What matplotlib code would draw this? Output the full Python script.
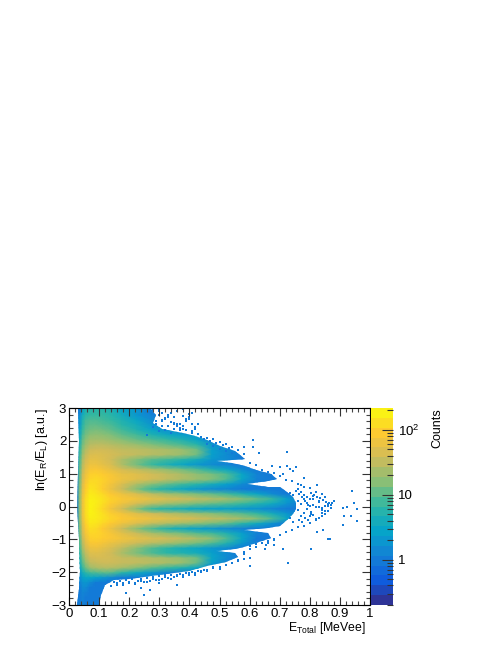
import numpy as np
import matplotlib as mpl
import matplotlib.pyplot as plt
from matplotlib.colors import LinearSegmentedColormap, ListedColormap, LogNorm
from matplotlib.patches import Polygon

mpl.use("Agg")
plt.rcParams["font.family"] = "Liberation Sans"
plt.rcParams["axes.linewidth"] = 0.8
plt.rcParams["mathtext.fontset"] = "custom"
plt.rcParams["mathtext.rm"] = "Liberation Sans"
plt.rcParams["mathtext.default"] = "regular"

# nodes of the coarse read-off grid
energy_nodes = [0.025, 0.035, 0.045, 0.055, 0.07, 0.09, 0.1125, 0.1375, 0.175, 0.225, 0.275,
                0.325, 0.375, 0.425, 0.475, 0.525, 0.575, 0.625, 0.675, 0.725, 0.775, 0.825, 0.875]
ratio_nodes = [3.0] + [round(2.925 - 0.15 * i, 3) for i in range(40)] + [-3.0]

# counts per bin, top row is ln(ER/EL) = 3
counts_rows = [
    [0, 1, 3, 5, 6, 6, 6, 5, 3, 2, 1],
    [0, 1, 3, 5, 6, 6, 6, 5, 3, 2, 1],
    [0, 1.5, 4, 6, 7, 7, 7, 6, 4, 2, 1.2],
    [0, 2, 5, 8, 9, 9, 8, 7, 5, 3, 1.5, 1],
    [0, 2, 6, 9, 11, 11, 10, 9, 6, 4, 2, 1.2],
    [0, 3, 7, 11, 13, 14, 13, 11, 8, 5, 3, 1.8, 1.3, 1],
    [0, 3, 9, 13, 17, 18, 17, 15, 11, 8, 5, 3.5, 2.5, 2],
    [0, 4, 11, 16, 22, 22, 22, 20, 16, 12, 9, 7, 5, 3, 1.2],
    [0, 5, 13, 20, 28, 30, 30, 28, 24, 20, 15, 12, 9, 6, 2, 1.2],
    [0, 6, 16, 26, 36, 38, 38, 36, 32, 30, 27, 24, 20, 13, 2.5, 1.5],
    [0, 7, 20, 32, 45, 48, 45, 42, 35, 32, 28, 24, 20, 13, 2.5, 1.5, 1],
    [0, 8, 24, 38, 55, 55, 48, 40, 25, 15, 10, 8, 6, 4, 2, 1.5, 1],
    [0, 9, 28, 45, 65, 65, 55, 45, 25, 13, 7, 4.5, 3, 2, 1.5, 1.2, 1],
    [0, 10, 32, 55, 80, 85, 75, 60, 42, 32, 24, 18, 13, 9, 5, 3, 1.5],
    [0, 11, 38, 65, 100, 105, 95, 80, 60, 50, 40, 32, 25, 18, 14, 9, 3, 1.2],
    [0, 12, 42, 75, 115, 120, 105, 85, 65, 50, 40, 32, 25, 20, 15, 9, 3, 1.2],
    [0, 13, 48, 85, 130, 125, 100, 75, 45, 25, 16, 11, 8, 6, 4, 2.5, 1.5, 1],
    [0, 14, 52, 95, 145, 130, 95, 65, 35, 15, 7, 4.5, 3, 2, 1.5, 1.3, 1, 1],
    [0, 15, 58, 105, 165, 150, 120, 90, 65, 45, 30, 22, 18, 14, 11, 8, 5, 3, 1.5],
    [0, 16, 65, 120, 185, 170, 140, 110, 85, 70, 55, 45, 38, 32, 27, 22, 16, 11, 7, 2.5],
    [0, 16, 65, 125, 190, 170, 130, 95, 65, 40, 28, 20, 16, 13, 11, 9, 7, 5, 3.5, 1.8],
    [0, 16, 65, 125, 190, 160, 115, 75, 40, 16, 7, 5, 4, 3, 2.5, 2.5, 2, 1.8, 1.3, 1],
    [0, 16, 65, 125, 190, 170, 135, 100, 75, 50, 38, 30, 24, 20, 16, 13, 10, 7, 4, 2, 1],
    [0, 16, 60, 115, 175, 165, 140, 115, 90, 75, 62, 52, 45, 38, 32, 28, 22, 16, 9, 3, 1],
    [0, 14, 52, 100, 155, 145, 115, 90, 65, 45, 32, 25, 20, 16, 13, 10, 6, 3.5, 1.8],
    [0, 13, 45, 85, 130, 120, 90, 65, 35, 16, 9, 5, 3.5, 2.5, 2, 1.5, 1.2, 1],
    [0, 12, 40, 75, 115, 115, 100, 80, 55, 35, 24, 18, 14, 10, 8, 5, 2.5, 1.2],
    [0, 10, 34, 62, 100, 105, 95, 85, 70, 55, 45, 38, 32, 25, 18, 9, 3, 1],
    [0, 9, 28, 50, 80, 85, 75, 62, 48, 35, 28, 22, 17, 13, 9, 5, 2],
    [0, 8, 22, 40, 62, 65, 55, 45, 30, 16, 9, 6, 4, 3, 2, 1.5, 1],
    [0, 6, 17, 30, 48, 50, 45, 38, 24, 14, 9, 6, 5, 4, 2.5, 1.5],
    [0, 5, 13, 24, 38, 42, 42, 40, 34, 30, 26, 22, 18, 13, 3, 1.5],
    [0, 4, 10, 18, 30, 34, 36, 36, 34, 32, 28, 24, 20, 12, 2.5, 1.2],
    [0, 3, 7, 12, 20, 24, 26, 26, 22, 15, 10, 7, 5, 3, 1.2],
    [0, 2, 4, 6, 8, 9, 10, 10, 6, 3.5, 2, 1.3, 1],
    [0, 1.5, 2.5, 3, 3, 2.5, 2, 1.5, 1],
    [0, 1.2, 1.8, 2, 1.5, 1],
    [0, 1, 1.5, 1.5, 1],
    [0, 1, 1.3, 1.2],
    [0, 1, 1.2, 1],
    [0, 1, 1.2, 1],
    [0, 1, 1.2, 1],
]

# outline of the filled region, read clockwise from the top left
outline_energy = [0.03, 0.27, 0.29, 0.28, 0.31, 0.38, 0.42, 0.46, 0.5, 0.55, 0.585, 0.54, 0.49, 0.54, 0.585,
                  0.62, 0.67, 0.69, 0.66, 0.59, 0.66, 0.70, 0.725, 0.745, 0.755, 0.755, 0.745, 0.725, 0.70, 0.66,
                  0.58, 0.66, 0.67, 0.62, 0.58, 0.55, 0.49, 0.55, 0.56, 0.52, 0.46, 0.4, 0.3, 0.2, 0.15,
                  0.12, 0.105, 0.1, 0.025, 0.033, 0.037, 0.033, 0.028, 0.03, 0.032]
outline_ratio = [3, 3, 2.8, 2.55, 2.35, 2.25, 2.15, 2.02, 1.85, 1.68, 1.45, 1.42, 1.39, 1.33, 1.22,
                 1.12, 1.0, 0.85, 0.78, 0.68, 0.6, 0.58, 0.45, 0.3, 0.12, -0.08, -0.24, -0.42, -0.58, -0.66,
                 -0.73, -0.8, -0.95, -1.1, -1.22, -1.28, -1.35, -1.42, -1.55, -1.68, -1.82, -1.95, -2.08, -2.2, -2.25,
                 -2.4, -2.7, -3, -3, -2.5, -2, -1, 0, 1, 2]

# isolated single-count bins outside the dense region
stray_energy = [
    0.612, 0.581, 0.612, 0.632, 0.725, 0.673, 0.700, 0.725, 0.754, 0.735, 0.745, 0.712, 0.781, 0.823, 0.770,
    0.939, 0.947, 0.911, 0.925, 0.958, 0.937, 0.912, 0.958, 0.910, 0.843, 0.823, 0.862, 0.866, 0.803, 0.729,
    0.710, 0.600, 0.580, 0.600, 0.650, 0.680, 0.655,
    0.805, 0.815, 0.825, 0.835, 0.845, 0.855, 0.865, 0.81, 0.82, 0.83, 0.84, 0.85, 0.86, 0.875, 0.80, 0.81, 0.82, 0.83, 0.84, 0.85,
    0.29, 0.31, 0.33, 0.35, 0.37, 0.39, 0.41, 0.30, 0.32, 0.34, 0.36, 0.38, 0.40, 0.42, 0.31, 0.33, 0.35, 0.37, 0.39, 0.41,
    0.16, 0.18, 0.20, 0.22, 0.24, 0.26, 0.28, 0.30, 0.32, 0.34, 0.36, 0.38, 0.40, 0.42, 0.44, 0.46, 0.48, 0.50, 0.52, 0.54,
    0.46, 0.48, 0.50, 0.52, 0.54, 0.56, 0.58, 0.60, 0.62, 0.64, 0.66, 0.68, 0.70, 0.72, 0.74, 0.76, 0.78, 0.80, 0.82, 0.84,
    0.56, 0.58, 0.60, 0.62, 0.64, 0.66, 0.68, 0.70, 0.72, 0.74, 0.76, 0.78, 0.80, 0.82, 0.58, 0.60, 0.62, 0.64, 0.66, 0.68,
    0.26, 0.28, 0.30, 0.32, 0.34, 0.36, 0.38, 0.40, 0.42, 0.27, 0.29, 0.31, 0.33, 0.35, 0.37, 0.39, 0.41,
    0.28, 0.30, 0.32, 0.34, 0.36, 0.38, 0.40, 0.43, 0.30, 0.33, 0.36, 0.39, 0.42, 0.31, 0.35, 0.38, 0.41,
    0.45, 0.47, 0.49, 0.51, 0.53, 0.46, 0.48, 0.50, 0.52, 0.54, 0.44, 0.43,
    0.12, 0.13, 0.14, 0.15, 0.16, 0.17, 0.18, 0.19, 0.20, 0.21, 0.22, 0.23, 0.24, 0.25, 0.26, 0.27, 0.28,
    0.29, 0.30, 0.31, 0.32, 0.33, 0.34, 0.35, 0.36, 0.37, 0.38, 0.39, 0.40, 0.41, 0.42, 0.43, 0.44, 0.45,
    0.46, 0.48, 0.50, 0.52, 0.54, 0.56, 0.58, 0.30, 0.27, 0.24, 0.36, 0.19, 0.25,
    0.85, 0.83, 0.86, 0.82, 0.87, 0.84, 0.81, 0.88, 0.85, 0.83, 0.86, 0.82, 0.84, 0.81, 0.87,
    0.76, 0.77, 0.78, 0.79, 0.80, 0.76, 0.77, 0.78, 0.79, 0.80, 0.76, 0.77, 0.78, 0.79, 0.80,
    0.765, 0.775, 0.785, 0.795, 0.805, 0.765, 0.775, 0.785, 0.795, 0.805, 0.735, 0.745, 0.755, 0.735, 0.745,
]
stray_ratio = [
    2.03, 1.82, 1.80, 1.62, 1.67, 1.24, 1.21, 1.24, 1.21, 1.15, 1.08, 1.00, 0.87, 0.65, 0.67,
    0.47, 0.12, -0.04, -0.01, -0.08, -0.28, -0.28, -0.45, -0.55, -0.72, -0.77, -0.99, -0.99, -1.28, -1.73,
    -1.30, -1.81, -1.60, -1.58, -1.30, -1.17, -1.17,
    0.40, 0.34, 0.30, 0.26, 0.20, 0.14, 0.10, 0.05, 0.00, 0.14, -0.05, 0.02, 0.08, 0.12, -0.30, -0.25, -0.38, -0.02, -0.20, -0.14,
    2.50, 2.62, 2.44, 2.74, 2.38, 2.68, 2.52, 2.90, 2.32, 2.84, 2.46, 2.96, 2.66, 2.42, 2.60, 2.78, 2.36, 2.52, 2.34, 2.86,
    -2.33, -2.40, -2.30, -2.33, -2.27, -2.30, -2.22, -2.24, -2.16, -2.20, -2.08, -2.14, -2.04, -2.08, -1.96, -1.94, -1.84, -1.90, -1.78, -1.72,
    2.10, 2.05, 1.95, 1.90, 1.82, 1.72, 1.60, 1.32, 1.25, 1.12, 1.05, 1.02, 0.93, 0.80, 0.78, 0.68, 0.60, 0.56, 0.45, 0.38,
    -1.62, -1.45, -1.30, -1.22, -1.12, -1.05, -0.98, -0.88, -0.78, -0.72, -0.62, -0.58, -0.50, -0.42, -1.38, -1.20, -1.15, -1.02, -1.10, -1.02,
    2.18, 2.42, 2.30, 2.66, 2.24, 2.52, 2.36, 2.72, 2.40, 2.88, 2.60, 2.44, 2.78, 2.50, 2.34, 2.62, 2.24,
    2.95, 2.80, 2.70, 2.58, 2.90, 2.46, 2.82, 2.50, 2.98, 2.72, 2.92, 2.60, 2.36, 2.86, 2.54, 2.76, 2.30,
    2.05, 1.98, 1.92, 1.86, 1.78, 1.90, 1.84, 1.76, 1.70, 1.62, 2.12, 2.22,
    -2.35, -2.28, -2.42, -2.30, -2.38, -2.26, -2.34, -2.24, -2.32, -2.22, -2.36, -2.28, -2.20, -2.30, -2.18, -2.26, -2.14,
    -2.24, -2.12, -2.20, -2.10, -2.18, -2.08, -2.16, -2.12, -2.06, -2.10, -2.02, -2.08, -1.98, -2.04, -1.96, -2.00, -1.92,
    -1.96, -1.88, -1.84, -1.78, -1.72, -1.66, -1.60, -2.32, -2.55, -2.48, -2.38, -2.62, -2.70,
    0.28, 0.16, -0.15, 0.44, 0.06, -0.10, 0.22, 0.18, -0.22, -0.34, 0.02, -0.42, -0.28, 0.32, -0.06,
    0.52, 0.44, 0.36, 0.30, 0.24, 0.16, 0.08, 0.22, 0.12, 0.02, -0.12, -0.30, -0.20, -0.08, -0.28,
    -0.40, -0.46, -0.34, -0.42, -0.24, 0.38, 0.28, 0.18, 0.06, -0.16, 0.42, 0.34, 0.48, -0.36, -0.48,
]

# ROOT kBird palette
bird_red = [0.2082, 0.0592, 0.0780, 0.0232, 0.1802, 0.5301, 0.8186, 0.9956, 0.9764]
bird_green = [0.1664, 0.3599, 0.5041, 0.6419, 0.7178, 0.7492, 0.7328, 0.7862, 0.9832]
bird_blue = [0.5293, 0.8684, 0.8385, 0.7914, 0.6425, 0.4662, 0.3499, 0.1968, 0.0539]

bird = LinearSegmentedColormap.from_list("bird", list(zip(bird_red, bird_green, bird_blue)), N=256)
scale = LogNorm(0.2, 218)
levels = np.geomspace(0.2, 218, 21)
bird_steps = ListedColormap(bird((np.arange(20) + 0.5) / 20))

counts = np.ones((len(ratio_nodes), len(energy_nodes)))
for i, row in enumerate(counts_rows):
    counts[i, : len(row)] = row
counts[counts < 1] = 1

fig = plt.figure(figsize=(4.98, 6.45), dpi=100)
W, H = 498.0, 645.0
ax = fig.add_axes([69 / W, 1 - 605 / H, 301 / W, 197 / H])
mesh = ax.pcolormesh(energy_nodes, ratio_nodes, counts, cmap=bird, norm=scale, shading="gouraud")
mesh.set_clip_path(Polygon(np.column_stack([outline_energy, outline_ratio]), transform=ax.transData))
ax.scatter(stray_energy, stray_ratio, s=1.4, marker="s", color=bird(scale(1.0)), linewidths=0)
ax.set_xlim(0, 1)
ax.set_ylim(-3, 3)
ax.set_xticks(np.arange(0, 1.01, 0.1))
ax.set_xticklabels(["0", "0.1", "0.2", "0.3", "0.4", "0.5", "0.6", "0.7", "0.8", "0.9", "1"])
ax.set_xticks(np.arange(0, 1.001, 0.02), minor=True)
ax.set_yticks(np.arange(-3, 3.1, 1))
ax.set_yticklabels(["\u22123", "\u22122", "\u22121", "0", "1", "2", "3"])
ax.set_yticks(np.arange(-3, 3.01, 0.2), minor=True)
ax.tick_params(which="major", direction="in", top=True, right=True, length=6, width=0.8,
               color="#333333", labelsize=9.5, pad=2)
ax.tick_params(which="minor", direction="in", top=True, right=True, length=3.2, width=0.8,
               color="#444444")
fig.text(366 / W, 1 - 619.5 / H, r"$E_{Total}$ [MeVee]", ha="right", va="top", fontsize=8.8)
fig.text(41.5 / W, 1 - 408 / H, r"$\ln(E_{R}/E_{L})$ [a.u.]", rotation=90, ha="center", va="top", fontsize=9)

# colour scale
cax = fig.add_axes([371 / W, 1 - 605 / H, 21.5 / W, 197 / H])
cax.pcolormesh([0, 1], levels, np.arange(20)[:, None], cmap=bird_steps, vmin=-0.5, vmax=19.5)
cax.set_yscale("log")
cax.set_ylim(0.2, 218)
cax.set_xticks([])
cax.yaxis.tick_right()
cax.set_yticks([1, 10, 100])
cax.set_yticklabels(["1", "10", "$10^{2}$"])
cax.set_yticks([0.2, 0.3, 0.4, 0.5, 0.6, 0.7, 0.8, 0.9, 2, 3, 4, 5, 6, 7, 8, 9,
                20, 30, 40, 50, 60, 70, 80, 90, 200], minor=True)
cax.yaxis.set_minor_formatter(mpl.ticker.NullFormatter())
cax.tick_params(which="major", direction="in", length=8, width=0.8, color="#333333", labelsize=9.5, pad=4)
cax.tick_params(which="minor", direction="in", length=4, width=0.8, color="#333333")
for s in cax.spines.values():
    s.set_linewidth(0)
fig.text(437 / W, 1 - 408 / H, "Counts", rotation=90, ha="center", va="top", fontsize=9)

fig.savefig("out.png", dpi=100)
